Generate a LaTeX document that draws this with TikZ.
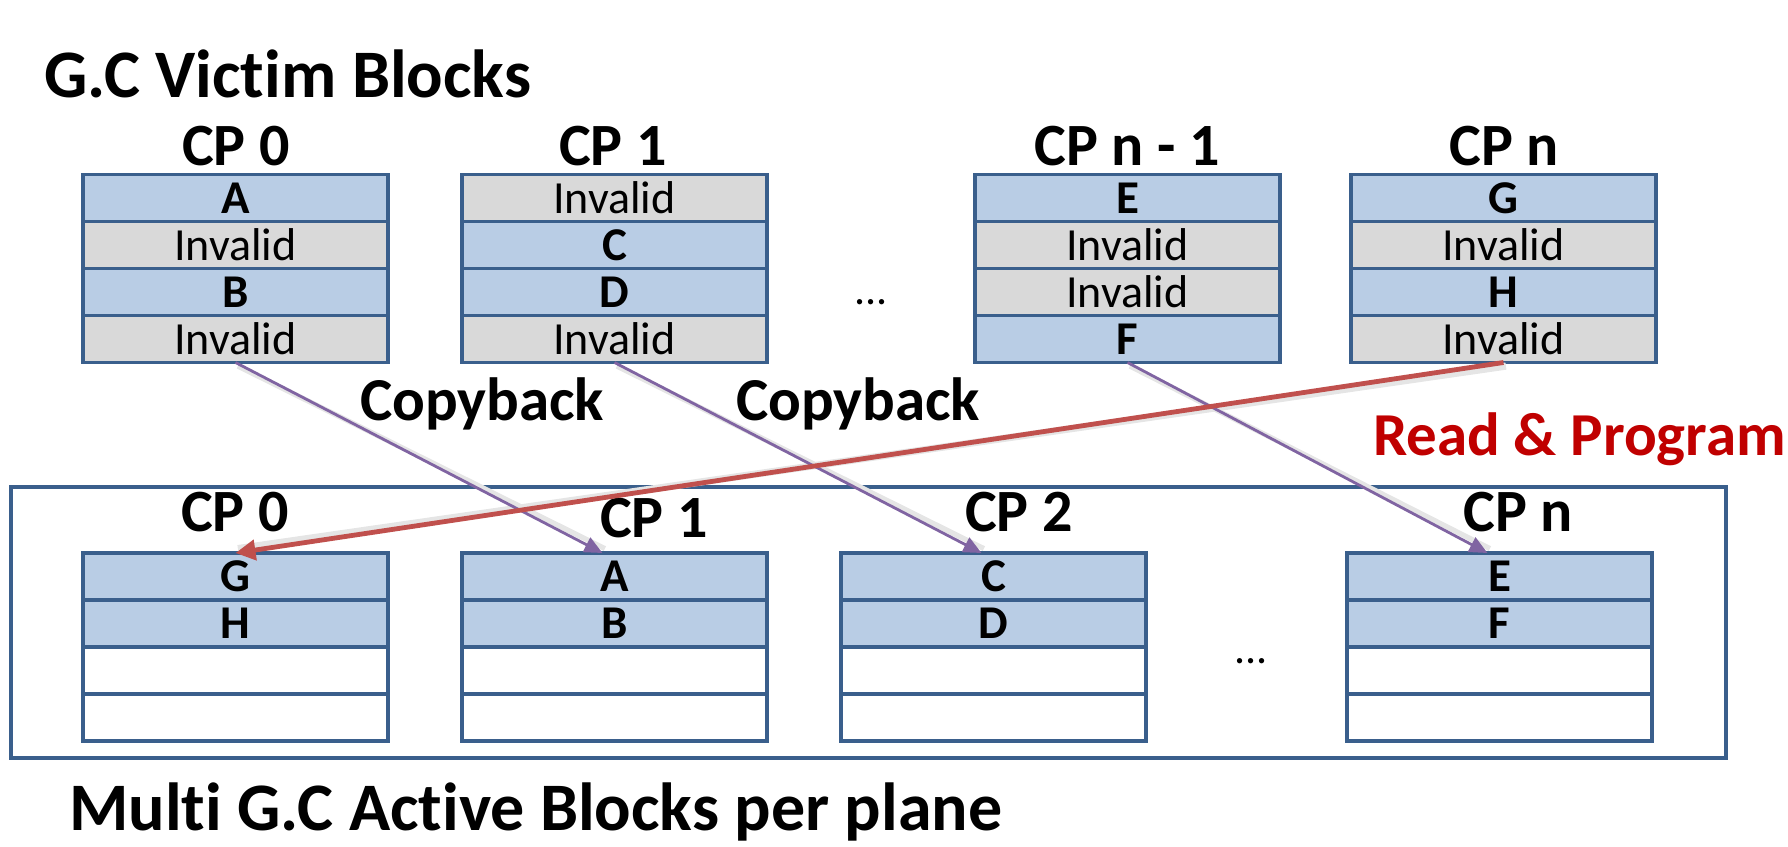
\documentclass[tikz,border=0pt]{standalone}
\usepackage{fontspec}
\setmainfont{Carlito}[Ligatures=NoCommon]
\usetikzlibrary{arrows.meta}
\definecolor{bfill}{HTML}{B9CDE5}
\definecolor{gfill}{HTML}{D9D9D9}
\definecolor{bline}{HTML}{3A5F8C}
\definecolor{purp}{HTML}{8064A2}
\definecolor{redarr}{HTML}{C0504D}
\definecolor{redtxt}{HTML}{C00000}
\begin{document}
\begin{tikzpicture}[x=0.5pt,y=-0.5pt,
 cell/.style={draw=bline, line width=1.8pt, minimum width=152.5pt, minimum height=23.5pt, inner sep=0pt, outer sep=0pt, anchor=north west},
 valid/.style={cell, fill=bfill, font=\fontsize{23.5}{26}\selectfont\bfseries},
 inval/.style={cell, fill=gfill, font=\fontsize{23}{26}\selectfont},
 emptycell/.style={cell, fill=white},
 cplabel/.style={font=\fontsize{30}{34}\selectfont\bfseries},
 title/.style={font=\fontsize{34}{40}\selectfont\bfseries, anchor=base west},
 lbl/.style={font=\fontsize{30.5}{36}\selectfont\bfseries, anchor=base west},
 dots/.style={font=\fontsize{22}{26}\selectfont},
 cb/.style={draw=purp, line width=1.4pt, -{Triangle[length=9pt,width=8pt]}},
 rp/.style={draw=redarr, line width=2.4pt, -{Triangle[length=10pt,width=10pt]}},
 shad/.style={draw=black!10, line width=2.6pt, transform canvas={xshift=1.2pt,yshift=-1.8pt}},
]
\useasboundingbox (0,0) rectangle (1788,846);

% titles
\node[title] (ttop) at (37,97) {G.C Victim Blocks};
\node[title] (tbot) at (62,830) {Multi G.C Active Blocks per plane};

% victim blocks
\node[cplabel] (lt0) at (236,146) {CP 0};
\node[cplabel] (lt1) at (613,146) {CP 1};
\node[cplabel] (lt2) at (1127,146) {CP n - 1};
\node[cplabel] (lt3) at (1504,146) {CP n};

\node[valid] (t0a) at (83,174.5) {A};
\node[inval] (t0b) at (83,221.5) {Invalid};
\node[valid] (t0c) at (83,268.5) {B};
\node[inval] (t0d) at (83,315.5) {Invalid};

\node[inval] (t1a) at (462,174.5) {Invalid};
\node[valid] (t1b) at (462,221.5) {C};
\node[valid] (t1c) at (462,268.5) {D};
\node[inval] (t1d) at (462,315.5) {Invalid};

\node[valid] (t2a) at (975,174.5) {E};
\node[inval] (t2b) at (975,221.5) {Invalid};
\node[inval] (t2c) at (975,268.5) {Invalid};
\node[valid] (t2d) at (975,315.5) {F};

\node[valid] (t3a) at (1351,174.5) {G};
\node[inval] (t3b) at (1351,221.5) {Invalid};
\node[valid] (t3c) at (1351,268.5) {H};
\node[inval] (t3d) at (1351,315.5) {Invalid};

\node[dots] (dtop) at (871,302) {...};

% active blocks
\node[draw=bline, line width=1.8pt, minimum width=857.5pt, minimum height=135.5pt, inner sep=0pt, anchor=north west] (plane) at (9,485) {};

\node[cplabel] (lb0) at (235,512) {CP 0};
\node[cplabel] (lb1) at (654,518) {CP 1};
\node[cplabel] (lb2) at (1019,512) {CP 2};
\node[cplabel] (lb3) at (1518,512) {CP n};

\node[valid] (b0a) at (83,553) {G};
\node[valid] (b0b) at (83,600) {H};
\node[emptycell] (b0c) at (83,647) {};
\node[emptycell] (b0d) at (83,694) {};

\node[valid] (b1a) at (462,553) {A};
\node[valid] (b1b) at (462,600) {B};
\node[emptycell] (b1c) at (462,647) {};
\node[emptycell] (b1d) at (462,694) {};

\node[valid] (b2a) at (841,553) {C};
\node[valid] (b2b) at (841,600) {D};
\node[emptycell] (b2c) at (841,647) {};
\node[emptycell] (b2d) at (841,694) {};

\node[valid] (b3a) at (1347,553) {E};
\node[valid] (b3b) at (1347,600) {F};
\node[emptycell] (b3c) at (1347,647) {};
\node[emptycell] (b3d) at (1347,694) {};

\node[dots] (dbot) at (1251,661) {...};

% labels
\node[lbl] (cb1) at (353,420) {Copyback};
\node[lbl] (cb2) at (729,420) {Copyback};
\node[lbl, text=redtxt] (rpl) at (1366,455) {Read \& Program};

% connector shadows
\draw[shad] (t0d.south) -- ([xshift=-6pt,yshift=4pt]b1a.north);
\draw[shad] (t1d.south) -- ([xshift=-6pt,yshift=4pt]b2a.north);
\draw[shad] (t2d.south) -- ([xshift=-6pt,yshift=4pt]b3a.north);
\draw[shad, line width=3.6pt] (t3d.south) -- ([yshift=4pt]b0a.north);
% connectors
\draw[cb] (t0d.south) -- ([xshift=-6pt]b1a.north);
\draw[cb] (t1d.south) -- ([xshift=-6pt]b2a.north);
\draw[cb] (t2d.south) -- ([xshift=-6pt]b3a.north);
\draw[rp] (t3d.south) -- (b0a.north);
\end{tikzpicture}
\end{document}
